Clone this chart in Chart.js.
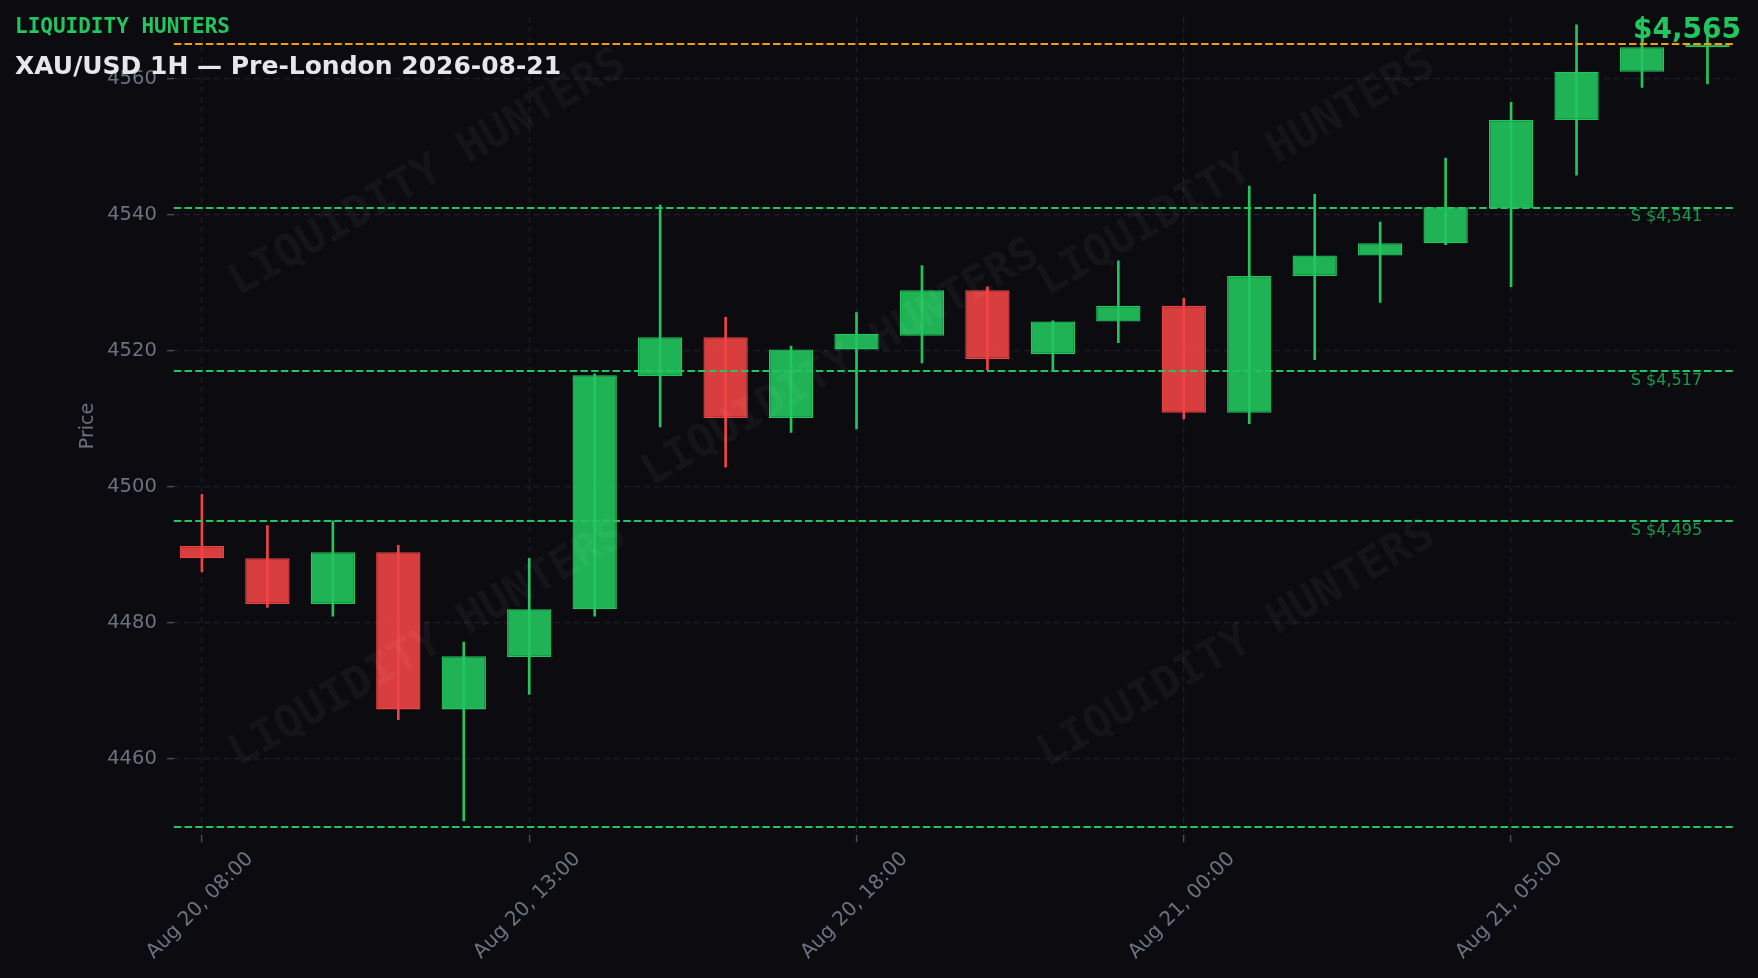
<!DOCTYPE html>
<html>
<head>
<meta charset="utf-8">
<script src="https://cdn.jsdelivr.net/npm/chart.js@4.4.1/dist/chart.umd.min.js"></script>
<style>
  html, body { margin: 0; padding: 0; background: #0b0b10; }
  #wrap { width: 1758px; height: 978px; }
</style>
</head>
<body>
<div id="wrap"><canvas id="c" width="1758" height="978"></canvas></div>
<script>
// ---- data ----
const timeLabels = [
  'Aug 20, 08:00','Aug 20, 09:00','Aug 20, 10:00','Aug 20, 11:00','Aug 20, 12:00',
  'Aug 20, 13:00','Aug 20, 14:00','Aug 20, 15:00','Aug 20, 16:00','Aug 20, 17:00',
  'Aug 20, 18:00','Aug 20, 19:00','Aug 20, 20:00','Aug 20, 21:00','Aug 20, 22:00',
  'Aug 21, 00:00','Aug 21, 01:00','Aug 21, 02:00','Aug 21, 03:00','Aug 21, 04:00',
  'Aug 21, 05:00','Aug 21, 06:00','Aug 21, 07:00','Aug 21, 08:00'
];
const opens  = [4491.3,4489.5,4482.8,4490.4,4467.3,4475.0,4482.0,4516.3,4522.0,4510.1,4520.2,4522.2,4528.9,4519.5,4524.3,4526.6,4510.9,4531.0,4534.0,4535.8,4540.9,4553.9,4561.0,4564.6];
const highs  = [4498.9,4494.3,4495.0,4491.4,4477.2,4489.5,4516.6,4541.4,4524.9,4520.7,4525.6,4532.5,4529.4,4524.4,4533.2,4527.7,4544.2,4543.0,4538.9,4548.3,4556.5,4567.9,4569.0,4566.5];
const lows   = [4487.5,4482.3,4481.0,4465.8,4450.9,4469.5,4481.0,4508.8,4502.9,4508.0,4508.5,4518.2,4517.2,4517.2,4521.2,4510.0,4509.3,4518.7,4527.1,4535.6,4529.4,4545.8,4558.7,4559.2];
const closes = [4489.5,4482.8,4490.4,4467.3,4475.1,4482.0,4516.4,4522.0,4510.1,4520.2,4522.5,4528.9,4518.8,4524.3,4526.6,4510.9,4531.0,4534.0,4535.8,4541.1,4553.9,4561.0,4564.6,4565.0];
const supportLevels = [4541, 4517, 4495];
const rangeLowLevel = 4450;
const currentPrice = 4565;
const xTickIndices = [0, 5, 10, 15, 20];
const yTickValues = [4460, 4480, 4500, 4520, 4540, 4560];
const brandText = 'LIQUIDITY HUNTERS';
const titleText = 'XAU/USD 1H \u2014 Pre-London 2026-08-21';

// ---- styling ----
const UP = '#22c55e', DOWN = '#ef4444';
const UP_FILL = 'rgba(34,197,94,0.9)', DOWN_FILL = 'rgba(239,68,68,0.9)';
const BG = '#0b0b10';
const GRID = '#1e1e28';
const TICKTXT = '#6b7280';

const isUp = i => closes[i] >= opens[i];
const bodyData = opens.map((o, i) => ({ x: i, y: [o, closes[i]] }));
const wickData = highs.map((h, i) => ({ x: i, y: [lows[i], h] }));
const fmt = v => '$' + v.toLocaleString('en-US');

const bgPlugin = {
  id: 'bg',
  beforeDraw(chart) {
    const { ctx, width, height } = chart;
    ctx.save();
    ctx.fillStyle = BG;
    ctx.fillRect(0, 0, width, height);
    ctx.restore();
  }
};

const levelsPlugin = {
  id: 'levels',
  afterDatasetsDraw(chart) {
    const { ctx, chartArea: ca, scales } = chart;
    const ys = scales.y, xs = scales.x;
    ctx.save();
    // watermark
    ctx.save();
    ctx.beginPath();
    ctx.rect(ca.left, ca.top, ca.right - ca.left, ca.bottom - ca.top);
    ctx.clip();
    ctx.font = 'bold 44px "DejaVu Sans Mono"';
    ctx.fillStyle = 'rgba(255,255,255,0.04)';
    ctx.textAlign = 'center';
    ctx.textBaseline = 'middle';
    [[428,174],[841,364],[1237,174],[428,645],[1237,645]].forEach(([cx, cy]) => {
      ctx.save();
      ctx.translate(cx, cy);
      ctx.rotate(-30 * Math.PI / 180);
      ctx.fillText(brandText, 0, 0);
      ctx.restore();
    });
    ctx.restore();

    // support lines
    ctx.lineWidth = 1.8;
    ctx.setLineDash([7.5, 3.2]);
    const drawLine = (v, color) => {
      const y = Math.round(ys.getPixelForValue(v));
      ctx.strokeStyle = color;
      ctx.beginPath();
      ctx.moveTo(ca.left, y);
      ctx.lineTo(ca.right, y);
      ctx.stroke();
    };
    supportLevels.forEach(v => drawLine(v, UP));
    drawLine(rangeLowLevel, UP);
    drawLine(currentPrice, '#f59e0b');
    ctx.setLineDash([]);

    // support labels
    ctx.font = '16px "DejaVu Sans"';
    ctx.fillStyle = 'rgba(34,197,94,0.75)';
    ctx.textAlign = 'left';
    ctx.textBaseline = 'top';
    supportLevels.forEach(v => {
      const y = ys.getPixelForValue(v);
      ctx.fillText('S ' + fmt(v), xs.getPixelForValue(21.83), y + 1.5);
    });
    ctx.restore();
  },
  afterDraw(chart) {
    const { ctx } = chart;
    ctx.save();
    ctx.textBaseline = 'alphabetic';
    ctx.textAlign = 'left';
    ctx.fillStyle = UP;
    ctx.font = 'bold 21px "DejaVu Sans Mono"';
    ctx.fillText(brandText, 15, 33);
    ctx.fillStyle = '#e6e6ec';
    ctx.font = 'bold 25px "DejaVu Sans"';
    ctx.fillText(titleText, 15, 74);
    ctx.textAlign = 'right';
    ctx.fillStyle = UP;
    ctx.font = 'bold 28px "DejaVu Sans"';
    ctx.fillText(fmt(currentPrice), 1741, 38);
    ctx.restore();
  }
};

new Chart(document.getElementById('c'), {
  type: 'bar',
  data: {
    datasets: [
      {
        label: 'body',
        data: bodyData,
        order: 0,
        grouped: false,
        categoryPercentage: 1,
        barPercentage: 0.677,
        backgroundColor: bodyData.map((d, i) => isUp(i) ? UP_FILL : DOWN_FILL),
        borderColor: bodyData.map((d, i) => isUp(i) ? UP : DOWN),
        borderWidth: 1.3,
        borderSkipped: false
      },
      {
        label: 'wick',
        data: wickData,
        order: 1,
        grouped: false,
        barThickness: 2,
        backgroundColor: wickData.map((d, i) => isUp(i) ? UP : DOWN),
        borderWidth: 0
      }
    ]
  },
  options: {
    responsive: false,
    animation: false,
    events: [],
    layout: { padding: { top: 16.8, right: 22.4, left: 0, bottom: 0 } },
    plugins: { legend: { display: false }, tooltip: { enabled: false }, title: { display: false } },
    scales: {
      x: {
        type: 'linear',
        min: -0.43,
        max: 23.43,
        offset: false,
        afterBuildTicks: s => { s.ticks = xTickIndices.map(v => ({ value: v })); },
        afterFit: s => { s.height = 978 - 835.3; s.paddingLeft = 0; s.paddingRight = 0; },
        ticks: {
          autoSkip: false,
          maxRotation: 45,
          minRotation: 45,
          labelOffset: 48,
          padding: 5,
          color: TICKTXT,
          font: { family: '"DejaVu Sans"', size: 20 },
          callback: v => timeLabels[v]
        },
        grid: { offset: false, color: GRID, lineWidth: 1.2, tickColor: '#4a4a55', tickLength: 7, tickWidth: 1.5 },
        border: { display: false, dash: [6, 4] }
      },
      y: {
        type: 'linear',
        min: 4448.8,
        max: 4569.07,
        afterBuildTicks: s => { s.ticks = yTickValues.map(v => ({ value: v })); },
        afterFit: s => { s.width = 173.8; s.paddingTop = 0; s.paddingBottom = 0; },
        ticks: {
          padding: 10,
          color: TICKTXT,
          font: { family: '"DejaVu Sans"', size: 19.5 },
          callback: v => String(v)
        },
        title: {
          display: true,
          text: 'Price',
          color: TICKTXT,
          font: { family: '"DejaVu Sans"', size: 19 },
          padding: { top: 77, bottom: 0 }
        },
        grid: { color: GRID, lineWidth: 1.2, tickColor: '#4a4a55', tickLength: 7, tickWidth: 1.5 },
        border: { display: false, dash: [6, 4] }
      }
    }
  },
  plugins: [bgPlugin, levelsPlugin]
});
</script>
</body>
</html>
